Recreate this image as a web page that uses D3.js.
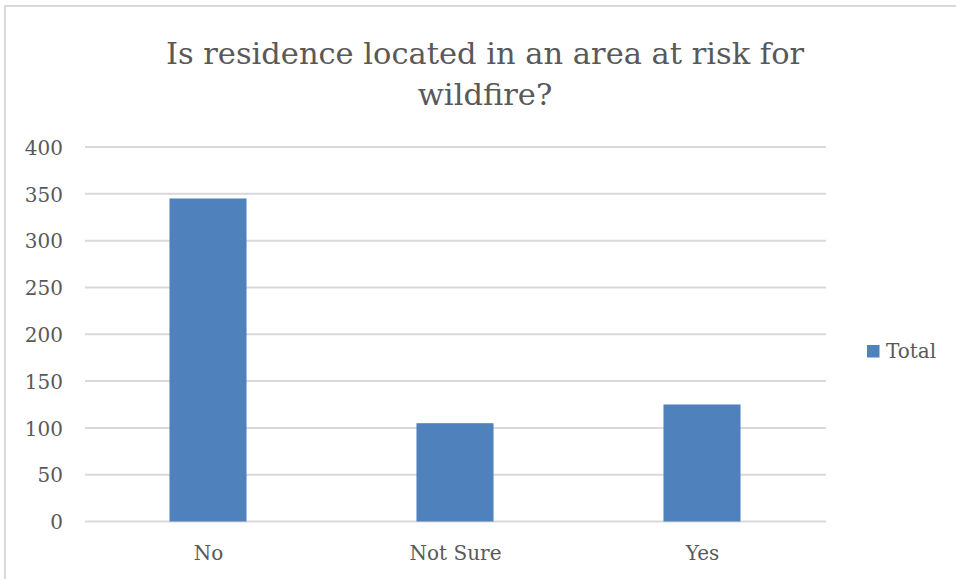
<!DOCTYPE html>
<html>
<head>
<meta charset="utf-8">
<script src="https://cdn.jsdelivr.net/npm/d3@7"></script>
<style>
  html, body { margin: 0; padding: 0; background: #fff; }
  svg { display: block; }
</style>
</head>
<body>
<svg id="chart" width="956" height="579"></svg>
<script>
// Survey answers and their counts
const categories = ["No", "Not Sure", "Yes"];
const totals = [345, 105, 125];
const yTicks = [0, 50, 100, 150, 200, 250, 300, 350, 400];
const titleLines = ["Is residence located in an area at risk for", "wildfire?"];
const seriesName = "Total";

const W = 956, H = 579;
const font = "'DejaVu Serif', serif";
const textColor = "#595959";
const gridColor = "#d9d9d9";
const barColor = "#4f81bd";

const svg = d3.select("#chart");

// Outer chart frame
svg.append("rect")
  .attr("x", 5).attr("y", 6)
  .attr("width", W + 20).attr("height", H + 20)
  .attr("fill", "#fff")
  .attr("stroke", gridColor)
  .attr("stroke-width", 2);

const plot = { left: 85, right: 826, top: 147, bottom: 521.5 };

const x = d3.scaleBand()
  .domain(categories)
  .range([plot.left, plot.right])
  .padding(0);

const y = d3.scaleLinear()
  .domain([0, 400])
  .range([plot.bottom, plot.top]);

// Title
const title = svg.append("text")
  .attr("text-anchor", "middle")
  .attr("fill", textColor)
  .style("font-family", font)
  .style("font-size", "30.5px");
title.selectAll("tspan")
  .data(titleLines)
  .join("tspan")
  .attr("x", 485)
  .attr("y", (d, i) => 64 + i * 41)
  .text(d => d);

// Horizontal gridlines
svg.append("g")
  .selectAll("line")
  .data(yTicks)
  .join("line")
  .attr("x1", plot.left).attr("x2", plot.right)
  .attr("y1", d => y(d)).attr("y2", d => y(d))
  .attr("stroke", gridColor)
  .attr("stroke-width", 2);

// Y axis labels
const yAxis = svg.append("g")
  .attr("transform", `translate(${plot.left - 22},0)`)
  .call(d3.axisLeft(y).tickValues(yTicks).tickSize(0).tickPadding(0));
yAxis.select(".domain").remove();
yAxis.selectAll("text")
  .attr("fill", textColor)
  .attr("dy", "0.36em")
  .style("font-family", font)
  .style("font-size", "20px");

// Bars (narrow column centred in each category slot)
const barFrac = 0.312;
svg.append("g")
  .selectAll("rect")
  .data(categories.map((c, i) => ({ c, v: totals[i] })))
  .join("rect")
  .attr("x", d => x(d.c) + x.bandwidth() * (1 - barFrac) / 2 - 0.5)
  .attr("width", x.bandwidth() * barFrac)
  .attr("y", d => y(d.v))
  .attr("height", d => y(0) - y(d.v))
  .attr("fill", barColor);

// Category labels
const xAxis = svg.append("g")
  .attr("transform", `translate(0,${plot.bottom})`)
  .call(d3.axisBottom(x).tickSize(0).tickPadding(0));
xAxis.select(".domain").remove();
xAxis.selectAll("text")
  .attr("fill", textColor)
  .attr("dy", "38px")
  .style("font-family", font)
  .style("font-size", "20px");

// Legend
const legend = svg.append("g").attr("transform", "translate(867,345)");
legend.append("rect")
  .attr("width", 12.5).attr("height", 12.5)
  .attr("fill", barColor);
legend.append("text")
  .attr("x", 19).attr("y", 12.5)
  .attr("fill", textColor)
  .style("font-family", font)
  .style("font-size", "20px")
  .text(seriesName);
</script>
</body>
</html>
